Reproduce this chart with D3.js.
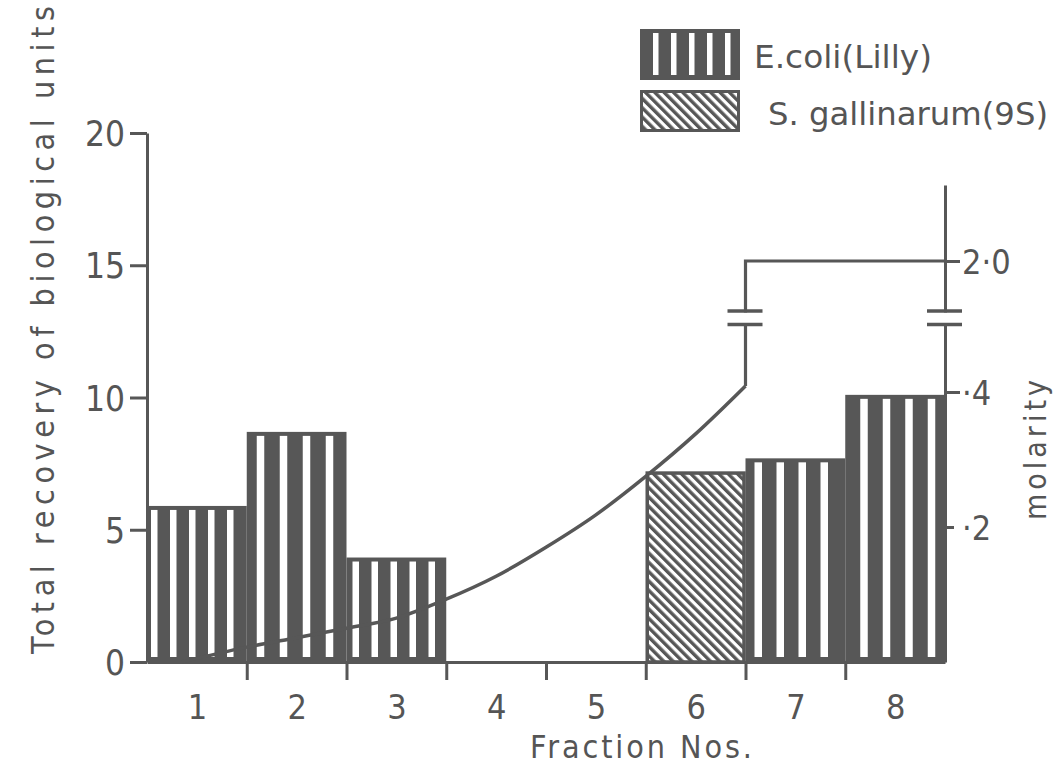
<!DOCTYPE html>
<html>
<head>
<meta charset="utf-8">
<script src="https://cdn.jsdelivr.net/npm/d3@7/dist/d3.min.js"></script>
<style>
  html, body { margin: 0; padding: 0; background: #fff; }
  svg { display: block; }
  text { font-family: "DejaVu Sans Condensed", "DejaVu Sans", sans-serif; fill: #555; }
</style>
</head>
<body>
<svg id="chart" width="1056" height="768"></svg>
<script>
// ---------------- data ----------------
const fractions = [1, 2, 3, 4, 5, 6, 7, 8];
const ecoliRecovery = [5.9, 8.7, 3.95, 0, 0, 0, 7.7, 10.1];
const sgallinarumRecovery = [0, 0, 0, 0, 0, 7.2, 0, 0];
const seriesNames = ["E.coli(Lilly)", "S. gallinarum(9S)"];
const leftTicks = [0, 5, 10, 15, 20];
const rightTicks = [0.2, 0.4, 2.0];
const rightTickLabels = ["·2", "·4", "2·0"];
// molarity gradient (fraction position, molarity)
const molarityPos = [0.85, 1.5, 2.0, 2.5, 3.0, 3.5, 4.0, 4.5, 5.0, 5.5, 6.0, 6.5];
const molarityVal = [0, 0.022, 0.036, 0.05, 0.065, 0.093, 0.127, 0.17, 0.218, 0.275, 0.338, 0.409];
// step to final 2.0 M wash
const stepPos = [6.5, 6.5, 8.5];
const stepVal = [0.409, 2.0, 2.0];
const breakVals = [0.5, 0.52];

// ---------------- styling ----------------
const INK = "#575757";
const FONT = '"DejaVu Sans Condensed", "DejaVu Sans", sans-serif';
const stripeStyle = [
  {o: 4, p: 19, w: 6.5}, {o: 10, p: 23, w: 7.5}, {o: 6, p: 19, w: 6.5}, null, null, null,
  {o: 9, p: 22, w: 7.5}, {o: 15, p: 22.5, w: 7.5}
];

const svg = d3.select("#chart");

const x = d3.scaleLinear().domain([0.5, 8.5]).range([147, 945]);
const y = d3.scaleLinear().domain([0, 20]).range([662, 133]);
const yM = d3.scaleLinear().domain([0, 0.5, 0.52, 2.0, 2.23]).range([662, 324.5, 311, 261, 185]);

// patterns
const defs = svg.append("defs");
const hatch = defs.append("pattern")
  .attr("id", "hatch").attr("patternUnits", "userSpaceOnUse")
  .attr("width", 6.6).attr("height", 20)
  .attr("patternTransform", "rotate(-45)");
hatch.append("rect").attr("width", 6.6).attr("height", 20).attr("fill", "#fff");
hatch.append("rect").attr("width", 3.4).attr("height", 20).attr("fill", INK);

// ---------------- bars ----------------
const gBars = svg.append("g");
function stripedBar(g, x0, x1, yt, yb, st) {
  g.append("rect").attr("x", x0).attr("y", yt).attr("width", x1 - x0).attr("height", yb - yt)
    .attr("fill", INK);
  for (let sx = x0 + st.o; sx + st.w <= x1 - 2; sx += st.p) {
    g.append("rect").attr("x", sx).attr("y", yt + 4).attr("width", st.w).attr("height", (yb - 5) - (yt + 4))
      .attr("fill", "#fff");
  }
}
fractions.forEach((f, i) => {
  const x0 = x(f - 0.5), x1 = x(f + 0.5);
  if (ecoliRecovery[i] > 0) {
    stripedBar(gBars, x0, x1, y(ecoliRecovery[i]), y(0), stripeStyle[i]);
  }
  if (sgallinarumRecovery[i] > 0) {
    gBars.append("rect").attr("x", x0 + 1.5).attr("y", y(sgallinarumRecovery[i]) + 1.5)
      .attr("width", x1 - x0 - 3).attr("height", y(0) - y(sgallinarumRecovery[i]) - 1.5)
      .attr("fill", "url(#hatch)").attr("stroke", INK).attr("stroke-width", 3.5);
  }
});

// ---------------- axes ----------------
function styleAxis(g, fs) {
  g.selectAll("path.domain").attr("stroke", INK).attr("stroke-width", 3);
  g.selectAll(".tick line").attr("stroke", INK).attr("stroke-width", 3);
  g.selectAll("text").attr("fill", "#555").attr("font-size", fs).attr("font-family", FONT);
}

const gLeft = svg.append("g").attr("transform", `translate(${x(0.5)},0)`)
  .call(d3.axisLeft(y).tickValues(leftTicks).tickSize(17).tickSizeOuter(0).tickPadding(5).tickFormat(d3.format("d")));
styleAxis(gLeft, 35);
gLeft.selectAll("text").attr("dy", "0.36em");

const gBottom = svg.append("g").attr("transform", `translate(0,${y(0)})`)
  .call(d3.axisBottom(x).tickValues(d3.range(1.5, 8, 1)).tickSize(18).tickSizeOuter(0).tickFormat(""));
styleAxis(gBottom, 34);

const gBottomLabels = svg.append("g").attr("transform", `translate(0,${y(0)})`)
  .call(d3.axisBottom(x).tickValues(fractions).tickSize(0).tickPadding(33).tickFormat(d3.format("d")));
gBottomLabels.select("path.domain").remove();
styleAxis(gBottomLabels, 34);

const gRight = svg.append("g").attr("transform", `translate(${x(8.5)},0)`)
  .call(d3.axisRight(yM).tickValues(rightTicks).tickSize(15).tickSizeOuter(0).tickPadding(2)
    .tickFormat((d, i) => rightTickLabels[i]));
styleAxis(gRight, 34);
gRight.selectAll(".tick").filter(d => d === 0.2).select("line").attr("x2", 9);
gRight.selectAll("text").attr("dy", "0.36em");

// ---------------- molarity curve ----------------
const curvePts = molarityPos.map((p, i) => [p, molarityVal[i]]);
svg.append("path").datum(curvePts)
  .attr("d", d3.line().x(d => x(d[0])).y(d => yM(d[1])).curve(d3.curveMonotoneX))
  .attr("fill", "none").attr("stroke", INK).attr("stroke-width", 3.5);
const stepPts = stepPos.map((p, i) => [p, stepVal[i]]);
svg.append("path").datum(stepPts)
  .attr("d", d3.line().x(d => x(d[0])).y(d => yM(d[1])))
  .attr("fill", "none").attr("stroke", INK).attr("stroke-width", 3.2);

// break marks on the step line and the right axis
[6.5, 8.5].forEach(p => {
  const cx = x(p);
  svg.append("rect").attr("x", cx - 6).attr("y", yM(breakVals[1]) + 1.5)
    .attr("width", 12).attr("height", yM(breakVals[0]) - yM(breakVals[1]) - 3).attr("fill", "#fff");
  breakVals.forEach(b => {
    svg.append("line").attr("x1", cx - 18).attr("x2", cx + 17)
      .attr("y1", yM(b)).attr("y2", yM(b)).attr("stroke", INK).attr("stroke-width", 3.5);
  });
});

// ---------------- titles ----------------
svg.append("text")
  .attr("transform", `translate(54,330) rotate(-90)`)
  .attr("text-anchor", "middle").attr("font-size", 32).attr("font-family", '"DejaVu Sans", sans-serif')
  .attr("textLength", 648).attr("lengthAdjust", "spacing")
  .text("Total recovery of biological units");

svg.append("text")
  .attr("x", 641).attr("y", 758).attr("text-anchor", "middle").attr("font-size", 32)
  .attr("textLength", 222).attr("lengthAdjust", "spacing")
  .text("Fraction Nos.");

svg.append("text")
  .attr("transform", `translate(1046,450) rotate(-90)`)
  .attr("text-anchor", "middle").attr("font-size", 30)
  .attr("textLength", 140).attr("lengthAdjust", "spacing")
  .text("molarity");

// ---------------- legend ----------------
const gLeg = svg.append("g");
stripedBar(gLeg, 640, 740, 29, 80, {o: 13, p: 18, w: 5.5});
gLeg.append("rect").attr("x", 641.5).attr("y", 91.5).attr("width", 97).attr("height", 39)
  .attr("fill", "url(#hatch)").attr("stroke", INK).attr("stroke-width", 3);
gLeg.append("text").attr("x", 754).attr("y", 68).attr("font-size", 32)
  .attr("textLength", 178).attr("lengthAdjust", "spacingAndGlyphs").text(seriesNames[0]);
gLeg.append("text").attr("x", 768).attr("y", 125).attr("font-size", 32)
  .attr("textLength", 280).attr("lengthAdjust", "spacingAndGlyphs").text(seriesNames[1]);
</script>
</body>
</html>
